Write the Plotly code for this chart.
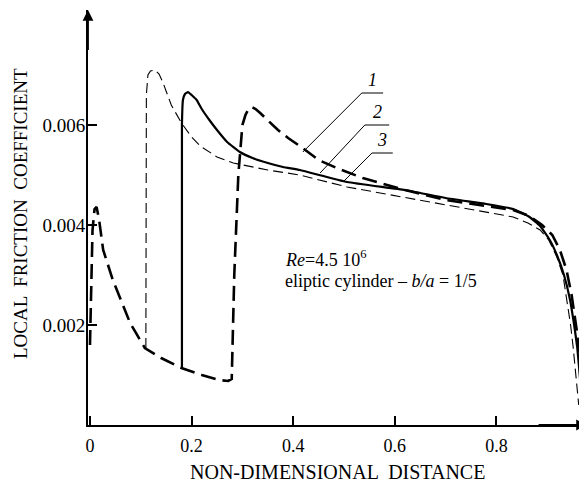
import plotly.graph_objects as go

# ---- data ----
# shared laminar branch (belongs to curve 1)
lam_x = [0.0, 0.002, 0.005, 0.009, 0.013, 0.018, 0.026, 0.045, 0.079, 0.108, 0.14, 0.18, 0.22, 0.255, 0.272]
lam_y = [0.0016, 0.0028, 0.0039, 0.00432, 0.00436, 0.0041, 0.0035, 0.0029, 0.00204, 0.00154, 0.00134, 0.00114, 0.00100, 0.00090, 0.00088]

c1_x = [0.279, 0.284, 0.292, 0.300, 0.306, 0.312, 0.318, 0.326, 0.335, 0.35, 0.37, 0.39, 0.413, 0.45, 0.49, 0.537, 0.62, 0.70, 0.78, 0.833, 0.865, 0.89, 0.91, 0.925, 0.938, 0.948, 0.958, 0.965, 0.970, 0.974]
c1_y = [0.00092, 0.0030, 0.0050, 0.0060, 0.0062, 0.00632, 0.00636, 0.00632, 0.00624, 0.0061, 0.0059, 0.00574, 0.00558, 0.0053, 0.00512, 0.00494, 0.0047, 0.0045, 0.00438, 0.0043, 0.00418, 0.00400, 0.0038, 0.0035, 0.0031, 0.0026, 0.0019, 0.0013, 0.0008, 0.0003]

c2_x = [0.181, 0.181, 0.183, 0.187, 0.193, 0.20, 0.21, 0.22, 0.235, 0.25, 0.27, 0.295, 0.32, 0.35, 0.38, 0.413, 0.506, 0.62, 0.70, 0.78, 0.833, 0.865, 0.886, 0.905, 0.919, 0.933, 0.945, 0.953, 0.959, 0.964, 0.968]
c2_y = [0.00114, 0.0060, 0.0065, 0.00662, 0.00666, 0.0066, 0.0065, 0.00632, 0.0061, 0.0059, 0.00566, 0.00546, 0.00534, 0.00524, 0.00516, 0.0051, 0.00486, 0.0047, 0.00454, 0.00442, 0.00432, 0.00416, 0.00398, 0.0037, 0.0034, 0.0030, 0.0025, 0.0020, 0.00156, 0.0010, 0.0005]

c3_x = [0.110, 0.111, 0.114, 0.119, 0.128, 0.136, 0.144, 0.16, 0.18, 0.20, 0.217, 0.25, 0.282, 0.35, 0.413, 0.506, 0.62, 0.70, 0.78, 0.833, 0.862, 0.886, 0.903, 0.919, 0.931, 0.939, 0.946, 0.951, 0.957, 0.962]
c3_y = [0.00154, 0.0066, 0.0070, 0.00708, 0.0071, 0.00702, 0.00684, 0.0064, 0.00604, 0.00576, 0.00558, 0.00536, 0.00524, 0.0051, 0.0050, 0.00476, 0.00455, 0.0044, 0.00426, 0.00416, 0.00404, 0.0039, 0.0037, 0.00336, 0.0030, 0.0025, 0.0020, 0.00156, 0.0010, 0.0004]

x_ticks = [0, 0.2, 0.4, 0.6, 0.8]
x_tick_labels = ["0", "0.2", "0.4", "0.6", "0.8"]
y_ticks = [0.002, 0.004, 0.006]
y_tick_labels = ["0.002", "0.004", "0.006"]

curve_labels = ["1", "2", "3"]
# leader lines: (start on curve x,y) -> (elbow x,y) -> (end x)
leaders = [
    (0.419, 0.00546, 0.535, 0.00664, 0.577),
    (0.453, 0.00504, 0.541, 0.00600, 0.589),
    (0.498, 0.00486, 0.555, 0.00544, 0.596),
]

FONT = "Liberation Serif"

# page body has an 8px margin: figure is sized/placed to compensate
W, H = 579, 478
ML, MR, MT, MB = 80, 0, 2, 61
PW, PH = W - ML - MR, H - MT - MB

fig = go.Figure()

fig.add_trace(go.Scatter(x=lam_x + c1_x, y=lam_y + c1_y, mode="lines",
                         line=dict(color="black", width=2.6, dash="15px,7px"), hoverinfo="skip"))
fig.add_trace(go.Scatter(x=c2_x, y=c2_y, mode="lines",
                         line=dict(color="black", width=2.2, shape="spline", smoothing=0.4), hoverinfo="skip"))
fig.add_trace(go.Scatter(x=c3_x, y=c3_y, mode="lines",
                         line=dict(color="black", width=1.1, dash="10px,5px"), hoverinfo="skip"))

for (x0, y0, x1, y1, x2), lab in zip(leaders, curve_labels):
    fig.add_trace(go.Scatter(x=[x0, x1, x2], y=[y0, y1, y1], mode="lines",
                             line=dict(color="black", width=1), hoverinfo="skip"))
    fig.add_annotation(x=(x1 + x2) / 2, y=y1, text="<i>" + lab + "</i>", showarrow=False,
                       yanchor="bottom", yshift=1, font=dict(family=FONT, size=18, color="black"))

fig.add_annotation(x=0.38, y=0.00334, xanchor="left", text="<i>Re</i>=4.5 10<sup>6</sup>",
                   showarrow=False, font=dict(family=FONT, size=18, color="black"))
fig.add_annotation(x=0.38, y=0.00288, xanchor="left", text="eliptic cylinder – <i>b/a</i> = 1/5",
                   showarrow=False, font=dict(family=FONT, size=18, color="black"))

# axis arrows
fig.add_annotation(xref="x domain", yref="y domain", x=0, y=1.0, ax=0, ay=0.9,
                   axref="x domain", ayref="y domain",
                   text="", showarrow=True, arrowhead=2, arrowsize=1.2, arrowwidth=1.8, arrowcolor="black")
fig.add_annotation(xref="x domain", yref="y domain", x=1.0, y=0, ax=0.9, ay=0,
                   axref="x domain", ayref="y domain",
                   text="", showarrow=True, arrowhead=2, arrowsize=1.2, arrowwidth=1.8, arrowcolor="black")

# axis titles as paper annotations (positions in page pixels, minus 8px body margin)
fig.add_annotation(xref="paper", yref="paper", x=(20 - 8 - ML) / PW, y=1 - (214 - 8 - MT) / PH,
                   xanchor="center", yanchor="middle",
                   text="LOCAL  FRICTION  COEFFICIENT", textangle=-90, showarrow=False,
                   font=dict(family=FONT, size=19, color="black"))
fig.add_annotation(xref="paper", yref="paper", x=(337 - 8 - ML) / PW, y=1 - (472 - 8 - MT) / PH,
                   xanchor="center", yanchor="middle",
                   text="NON-DIMENSIONAL  DISTANCE", showarrow=False,
                   font=dict(family=FONT, size=20, color="black"))

fig.update_layout(
    width=W, height=H,
    margin=dict(l=ML, r=MR, t=MT, b=MB),
    paper_bgcolor="white", plot_bgcolor="white",
    showlegend=False,
    font=dict(family=FONT, size=18, color="black"),
    xaxis=dict(range=[-0.0039, 0.9783], showgrid=False, zeroline=False, automargin=False,
               showline=True, linecolor="black", linewidth=1.8,
               ticks="inside", ticklen=9, tickwidth=1.5, tickcolor="black",
               tickvals=x_ticks, ticktext=x_tick_labels, ticklabelstandoff=3,
               tickfont=dict(family=FONT, size=18)),
    yaxis=dict(range=[0, 0.0083], showgrid=False, zeroline=False, automargin=False,
               showline=True, linecolor="black", linewidth=1.8,
               ticks="inside", ticklen=9, tickwidth=1.5, tickcolor="black",
               tickvals=y_ticks, ticktext=y_tick_labels, ticklabelstandoff=-3,
               tickfont=dict(family=FONT, size=19)),
)

fig.write_html("out.html")
